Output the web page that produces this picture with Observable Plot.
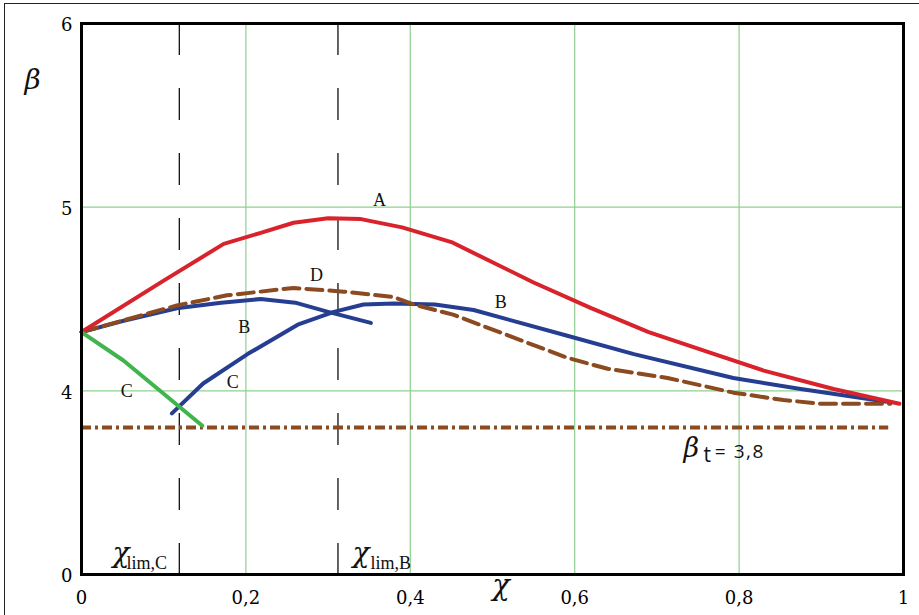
<!DOCTYPE html>
<html><head><meta charset="utf-8">
<script src="https://cdn.jsdelivr.net/npm/d3@7"></script>
<script src="https://cdn.jsdelivr.net/npm/@observablehq/plot@0.6"></script>
<style>
html,body{margin:0;padding:0;background:#fff;}
#wrap{position:relative;width:919px;height:615px;overflow:hidden;}
#border{position:absolute;left:4px;top:3px;width:940px;height:640px;border-top:1.5px solid #222;border-left:1.5px solid #222;pointer-events:none;}
svg{display:block;}
</style></head><body><div id="wrap"><div id="chart"></div><div id="border"></div></div>
<script>
// ---- data ----
const xTicks = [0, 0.2, 0.4, 0.6, 0.8, 1];
const xTickLabels = ["0", "0,2", "0,4", "0,6", "0,8", "1"];
const yTicks = [3, 4, 5, 6];
const yTickLabels = ["0", "4", "5", "6"];

const curveA_x = [0, 0.1, 0.173, 0.218, 0.258, 0.30, 0.34, 0.39, 0.45, 0.55, 0.62, 0.69, 0.77, 0.83, 0.915, 0.995];
const curveA_y = [4.32, 4.60, 4.80, 4.86, 4.915, 4.94, 4.935, 4.89, 4.81, 4.59, 4.45, 4.32, 4.20, 4.11, 4.01, 3.93];

const curveB1_x = [0, 0.05, 0.116, 0.17, 0.218, 0.26, 0.30, 0.352];
const curveB1_y = [4.32, 4.38, 4.45, 4.48, 4.50, 4.48, 4.43, 4.37];

const curveB2_x = [0.110, 0.148, 0.202, 0.263, 0.307, 0.343, 0.38, 0.43, 0.477, 0.591, 0.672, 0.793, 0.875, 0.98];
const curveB2_y = [3.877, 4.04, 4.20, 4.36, 4.43, 4.47, 4.475, 4.47, 4.44, 4.30, 4.20, 4.07, 4.01, 3.94];

const curveD_x = [0, 0.116, 0.177, 0.258, 0.319, 0.38, 0.404, 0.452, 0.591, 0.64, 0.713, 0.793, 0.854, 0.899, 0.984];
const curveD_y = [4.32, 4.465, 4.52, 4.56, 4.54, 4.51, 4.47, 4.415, 4.18, 4.12, 4.07, 3.99, 3.95, 3.93, 3.93];

const curveC_x = [0, 0.051, 0.147];
const curveC_y = [4.32, 4.165, 3.81];

const betaTarget = 3.8;
const betaTargetEnd = 0.982;
const chiLimC = 0.119;
const chiLimB = 0.312;

const curveNames = ["A", "D", "B", "C", "C", "B"];
const curveLabelX = [0.3625, 0.286, 0.198, 0.184, 0.055, 0.51];
const curveLabelY = [5.036, 4.628, 4.345, 4.046, 3.997, 4.48];

// ---- build tables ----
const toRows = (xs, ys) => xs.map((x, i) => ({x, y: ys[i]}));
const A = toRows(curveA_x, curveA_y);
const B1 = toRows(curveB1_x, curveB1_y);
const B2 = toRows(curveB2_x, curveB2_y);
const D = toRows(curveD_x, curveD_y);
const C = toRows(curveC_x, curveC_y);
const labels = curveNames.map((t, i) => ({t, x: curveLabelX[i], y: curveLabelY[i]}));

const RED = "#d8232c", BLUE = "#263e92", GREEN = "#40b54c", BROWN = "#8b4a1f", GRID = "#8fd08f";
const SERIF = "Liberation Serif", GREEK = "DejaVu Serif", TICK = "DejaVu Serif", SANS = "Open Sans";

const chart = Plot.plot({
  width: 919, height: 615,
  marginLeft: 81, marginRight: 16, marginTop: 23, marginBottom: 41,
  x: {domain: [0, 1]},
  y: {domain: [3, 6]},
  marks: [
    Plot.gridX([0.2, 0.4, 0.6, 0.8], {stroke: GRID, strokeOpacity: 1, strokeWidth: 1.2}),
    Plot.gridY([4, 5], {stroke: GRID, strokeOpacity: 1, strokeWidth: 1.2}),
    Plot.ruleX([chiLimC, chiLimB], {y1: 6, y2: 3, stroke: "#111", strokeWidth: 1.3, strokeDasharray: "32,33"}),
    Plot.ruleY([betaTarget], {x1: 0, x2: betaTargetEnd, stroke: BROWN, strokeWidth: 4, strokeDasharray: "10,4,3,4"}),
    Plot.line(B1, {x: "x", y: "y", stroke: BLUE, strokeWidth: 4}),
    Plot.line(B2, {x: "x", y: "y", stroke: BLUE, strokeWidth: 4}),
    Plot.line(D, {x: "x", y: "y", stroke: BROWN, strokeWidth: 4, strokeDasharray: "16,7"}),
    Plot.line(A, {x: "x", y: "y", stroke: RED, strokeWidth: 4}),
    Plot.line(C, {x: "x", y: "y", stroke: GREEN, strokeWidth: 4}),
    Plot.text(labels, {x: "x", y: "y", text: "t", fontSize: 18, fontFamily: SERIF, fill: "#111"}),
    // beta_t annotation
    Plot.text(["β"], {x: 0.7324, y: 3.688, textAnchor: "start", fontSize: 27, fontFamily: GREEK, fontStyle: "italic", fill: "#111"}),
    Plot.text(["t"], {x: 0.7567, y: 3.648, textAnchor: "start", fontSize: 21, fontFamily: SANS, fill: "#111"}),
    Plot.text(["= 3,8"], {x: 0.7705, y: 3.667, textAnchor: "start", fontSize: 19, fontFamily: SANS, fill: "#111"}),
    // chi_lim annotations
    Plot.text(["χ", "χ"], {x: [0.0377, 0.3297], y: [3.117, 3.117], textAnchor: "start", fontSize: 28, fontFamily: GREEK, fontStyle: "italic", fill: "#111"}),
    Plot.text(["lim,C", "lim,B"], {x: [0.0547, 0.3516], y: [3.059, 3.059], textAnchor: "start", fontSize: 18, fontFamily: SERIF, fill: "#111"}),
    // axes
    Plot.axisX(xTicks, {tickSize: 0, tickPadding: 17, tickFormat: d => xTickLabels[xTicks.indexOf(d)], fontSize: 18, fontFamily: TICK, label: null}),
    Plot.axisY(yTicks, {tickSize: 0, tickPadding: 9, dy: 2, tickFormat: d => yTickLabels[yTicks.indexOf(d)], fontSize: 18, fontFamily: TICK, label: null}),
    Plot.text(["β"], {frameAnchor: "top-left", dx: -57, dy: 45.5, fontSize: 28, fontFamily: GREEK, fontStyle: "italic", fill: "#111"}),
    Plot.text(["χ"], {frameAnchor: "bottom", dx: 8.5, dy: 20, fontSize: 29, fontFamily: GREEK, fontStyle: "italic", fill: "#111"}),
    Plot.frame({stroke: "#000", strokeWidth: 3})
  ]
});
// slightly wider spacing in "= 3,8", as in the reference
d3.select(chart).selectAll("text").filter(function() { return this.textContent === "= 3,8"; }).attr("letter-spacing", "1.5px");
document.getElementById("chart").appendChild(chart);
</script>
</body></html>
